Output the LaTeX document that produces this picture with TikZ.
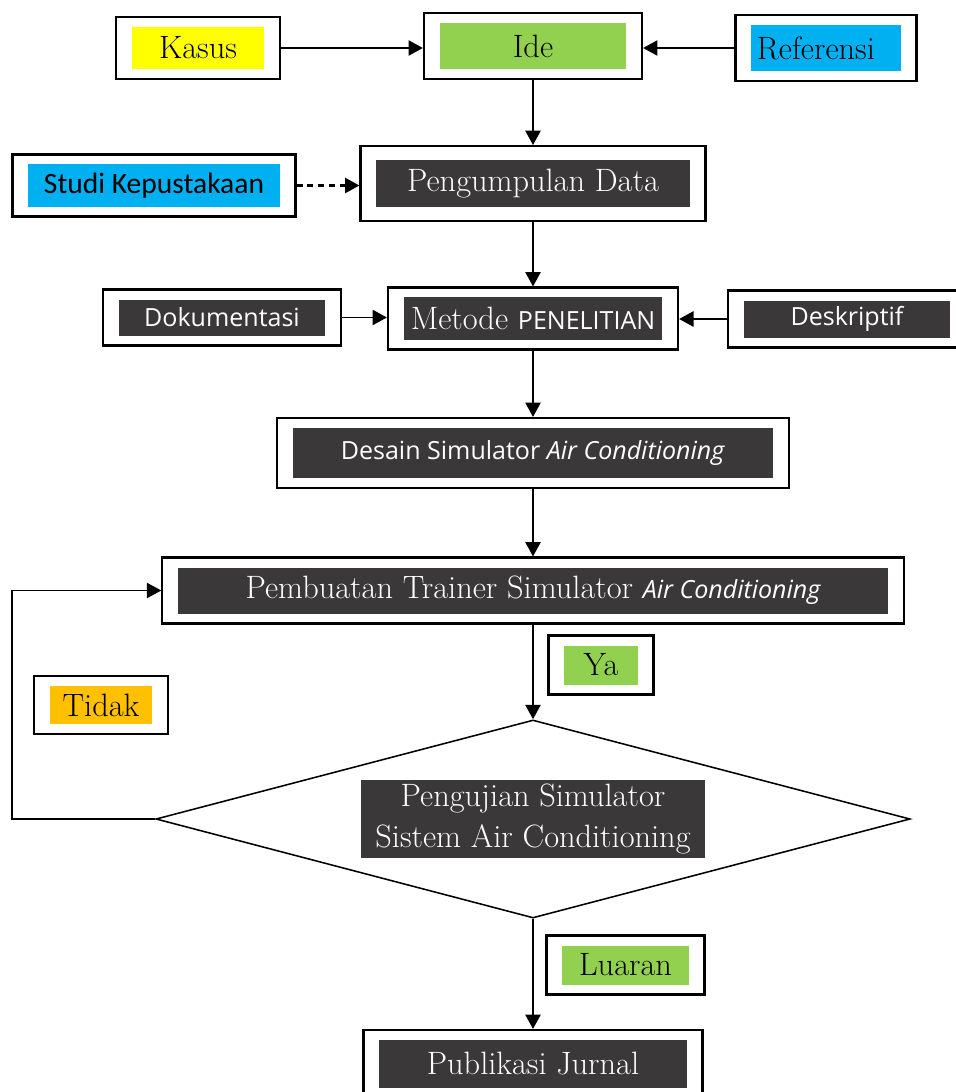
\documentclass[tikz,border=0pt]{standalone}
\usepackage{fontspec}
\newfontfamily\opensans{Open Sans}
\newfontfamily\carlito{Carlito}
\usetikzlibrary{shapes.geometric,arrows.meta}

\definecolor{kuning}{HTML}{FFFF00}
\definecolor{hijau}{HTML}{92D050}
\definecolor{biru}{HTML}{00B0F0}
\definecolor{oranye}{HTML}{FFC000}
\definecolor{gelap}{HTML}{3A3838}

\setlength{\fboxsep}{0pt}
\newcommand{\isian}[4]{\colorbox{#1}{\parbox[c][#3][c]{#2}{\centering #4}}}
\newcommand{\hurufsans}{\opensans\fontsize{17.8}{22}\selectfont}

\begin{document}
\begin{tikzpicture}[x=0.025cm,y=-0.025cm,
    kotak/.style={draw,line width=1.5pt,inner xsep=0.4cm,inner ysep=0.25cm,
      font=\fontsize{23}{29}\selectfont},
    panah/.style={line width=1.4pt,-{Triangle[length=0.36cm,width=0.38cm]}}]
  \useasboundingbox (0,0) rectangle (955,1092);

  \node[kotak] (kasus) at (198,48) {\isian{kuning}{3.3cm}{1.05cm}{Kasus}};
  \node[kotak] (ide) at (533,46) {\isian{hijau}{4.65cm}{1.15cm}{Ide}};
  \node[kotak] (ref) at (826,48) {\isian{biru}{3.725cm}{1.15cm}{\raggedright\,Referensi}};
  \node[kotak] (studi) at (154,185.5)
    {\isian{biru}{6.275cm}{1.05cm}{\carlito\fontsize{21}{25}\selectfont Studi Kepustakaan}};
  \node[kotak,inner ysep=0.36cm] (data) at (533,183.5)
    {\isian{gelap}{7.825cm}{1.15cm}{\color{white}Pengumpulan Data}};
  \node[kotak] (dok) at (222,317.5) {\isian{gelap}{5.15cm}{0.9cm}{\hurufsans\color{white}Dokumentasi}};
  \node[kotak] (metode) at (533,318.5)
    {\isian{gelap}{6.45cm}{1.05cm}{\color{white}Metode {\hurufsans PENELITIAN}}};
  \node[kotak] (desk) at (847,319) {\isian{gelap}{5.15cm}{0.925cm}{\hurufsans\color{white}Deskriptif}};
  \node[kotak] (desain) at (533,453)
    {\isian{gelap}{11.975cm}{1.25cm}{\hurufsans\color{white}Desain Simulator \textit{Air Conditioning}}};
  \node[kotak] (buat) at (533,590.5)
    {\isian{gelap}{17.725cm}{1.15cm}{\color{white}Pembuatan Trainer Simulator {\hurufsans\itshape Air Conditioning}}};
  \node[kotak] (ya) at (601,665) {\isian{hijau}{1.825cm}{0.975cm}{Ya}};
  \node[kotak] (tidak) at (101,705) {\isian{oranye}{2.55cm}{0.95cm}{Tidak}};
  \node[draw,diamond,aspect=3.8,inner sep=0pt,line width=1.1pt,minimum width=18.85cm,
    minimum height=4.95cm,font=\fontsize{23}{29}\selectfont] (uji) at (533,819)
    {\isian{gelap}{8.575cm}{1.95cm}{\color{white}Pengujian Simulator\\Sistem Air Conditioning}};
  \node[kotak] (luaran) at (625.5,965) {\isian{hijau}{3.15cm}{0.975cm}{Luaran}};
  \node[kotak] (publik) at (533,1064) {\isian{gelap}{7.675cm}{1.2cm}{\color{white}Publikasi Jurnal}};
  \coordinate (kiri) at (12,0);

  \draw[panah] (kasus) -- (kasus -| ide.west);
  \draw[panah] (ref) -- (ref -| ide.east);
  \draw[panah] (ide) -- (data);
  \draw[panah,line width=1.7pt,dash pattern=on 0.15cm off 0.12cm] (studi) -- (studi -| data.west);
  \draw[panah] (data) -- (metode);
  \draw[panah] (dok) -- (dok -| metode.west);
  \draw[panah] (desk) -- (desk -| metode.east);
  \draw[panah] (metode) -- (desain);
  \draw[panah] (desain) -- (buat);
  \draw[panah] (buat) -- (uji);
  \draw[panah] (uji) -- (publik);
  \draw[panah,line width=0.8pt] (uji.west) -- (uji.west -| kiri) |- (buat.west);
\end{tikzpicture}
\end{document}
